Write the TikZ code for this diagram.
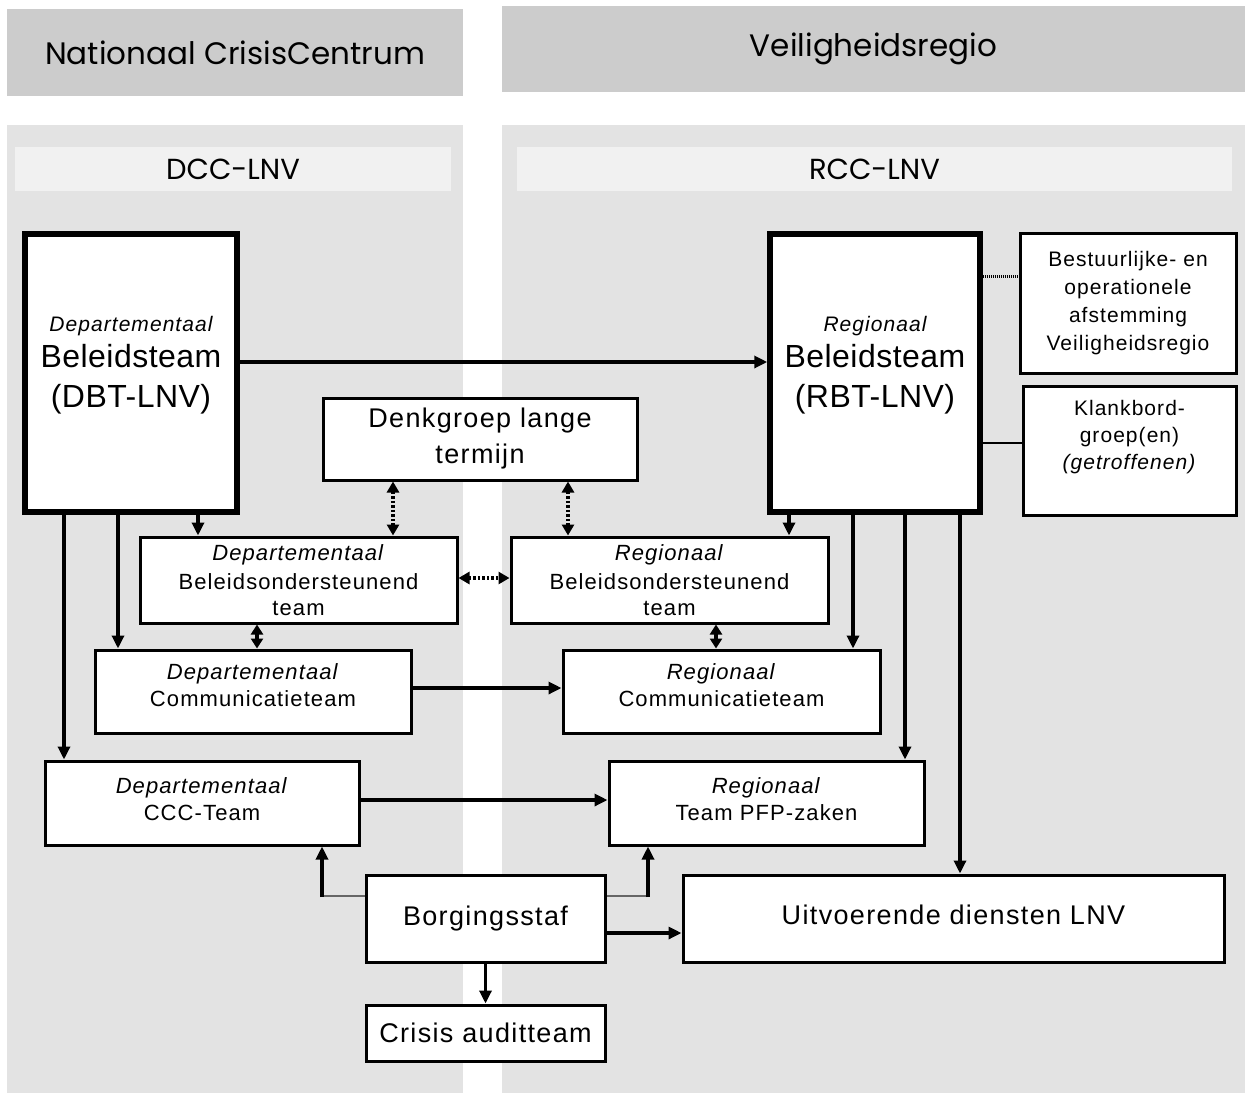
\documentclass[tikz,border=0pt]{standalone}
\usepackage{fontspec}
\setmainfont{Liberation Sans}[LetterSpace=5]
\newfontfamily\hdrfont{Poppins}
\newfontfamily\bigfont{Liberation Sans}[LetterSpace=1.5]
\usetikzlibrary{arrows.meta}
\definecolor{hdrgray}{HTML}{CCCCCC}
\definecolor{panelgray}{HTML}{E3E3E3}
\definecolor{subgray}{HTML}{F1F1F1}
\begin{document}
\begin{tikzpicture}[x=1pt,y=-1pt,
  box/.style={draw, line width=3pt, fill=white, inner sep=0pt, align=center,
    font=\fontsize{22}{27}\selectfont},
  bigbox/.style={box, line width=5.5pt},
  txt/.style={inner sep=0pt, align=center, font=\fontsize{22}{27}\selectfont},
  hdr/.style={fill=hdrgray, inner sep=0pt, font=\hdrfont\fontsize{31}{36}\selectfont},
  panel/.style={fill=panelgray, inner sep=0pt},
  sub/.style={fill=subgray, inner sep=0pt, font=\hdrfont\fontsize{29}{34}\selectfont},
  arr/.style={line width=3.2pt, -{Triangle[length=13pt,width=12pt]}},
  darr/.style={line width=3.2pt, dash pattern=on 2.5pt off 2pt,
    {Triangle[length=11pt,width=12pt]}-{Triangle[length=11pt,width=12pt]}},
  sarr/.style={line width=3.2pt,
    {Triangle[length=10pt,width=12pt]}-{Triangle[length=10pt,width=12pt]}},
  dotline/.style={line width=3pt, dash pattern=on 1pt off 1pt},
  thinline/.style={line width=1.3pt},
  grayline/.style={line width=1.6pt, draw=black!60}
]
\useasboundingbox (0,0) rectangle (1245,1093);
% background panels
\node[hdr, minimum width=456, minimum height=87] (hl) at (235,52.5) {Nationaal CrisisCentrum};
\node[hdr, minimum width=743, minimum height=86] (hr) at (873.5,49) {Veiligheidsregio};
\node[panel, minimum width=456, minimum height=968, anchor=north west] (pl) at (7,125) {};
\node[panel, minimum width=743, minimum height=968, anchor=north west] (pr) at (502,125) {};
\node[sub, minimum width=436, minimum height=44] (dcc) at (233,169) {DCC-LNV};
\node[sub, minimum width=715, minimum height=44] (rcc) at (874.5,169) {RCC-LNV};

% boxes
\node[bigbox, minimum width=212, minimum height=278] (dbt) at (131,373) {};
\node[txt, font=\bigfont\fontsize{32}{40}\selectfont] (dbtt) at (131,365)
  {{\normalfont\fontsize{21}{25}\selectfont\itshape Departementaal}\\[-4pt] Beleidsteam\\ (DBT-LNV)};
\node[bigbox, minimum width=210, minimum height=278] (rbt) at (875,373) {};
\node[txt, font=\bigfont\fontsize{32}{40}\selectfont] (rbtt) at (875,365)
  {{\normalfont\fontsize{21}{25}\selectfont\itshape Regionaal}\\[-4pt] Beleidsteam\\ (RBT-LNV)};

\node[box, minimum width=216, minimum height=140, font=\fontsize{21}{28}\selectfont] (best) at (1128,303)
  {Bestuurlijke- en\\ operationele\\ afstemming\\ Veiligheidsregio};
\node[box, minimum width=213, minimum height=129] (klank) at (1129.5,450.5) {};
\node[txt, font=\fontsize{21}{27}\selectfont] (klankt) at (1129.5,437)
  {Klankbord-\\ groep(en)\\ \textit{(getroffenen)}};

\node[box, minimum width=314, minimum height=82, font=\fontsize{27}{36}\selectfont] (denk) at (480,439)
  {Denkgroep lange\\ termijn};

\node[box, minimum width=317, minimum height=86, font=\fontsize{22}{29}\selectfont] (depbel) at (298.5,580)
  {\textit{Departementaal}\\ Beleidsondersteunend\\[-3pt] team};
\node[box, minimum width=317, minimum height=86, font=\fontsize{22}{29}\selectfont] (regbel) at (669.5,580)
  {\textit{Regionaal}\\ Beleidsondersteunend\\[-3pt] team};

\node[box, minimum width=316, minimum height=83] (depcomm) at (253,691.5) {};
\node[txt] (depcommt) at (253,685) {\textit{Departementaal}\\ Communicatieteam};
\node[box, minimum width=317, minimum height=83] (regcomm) at (721.5,691.5) {};
\node[txt] (regcommt) at (721.5,685) {\textit{Regionaal}\\ Communicatieteam};

\node[box, minimum width=314, minimum height=84] (depccc) at (202,803) {};
\node[txt] (depccct) at (202,799) {\textit{Departementaal}\\ CCC-Team};
\node[box, minimum width=315, minimum height=84] (regpfp) at (766.5,803) {};
\node[txt] (regpfpt) at (766.5,799) {\textit{Regionaal}\\ Team PFP-zaken};

\node[box, minimum width=239, minimum height=87, font=\fontsize{27}{32}\selectfont] (borg) at (485.5,918.5) {Borgingsstaf};
\node[box, minimum width=541, minimum height=87] (uitv) at (953.5,918.5) {};
\node[txt, font=\fontsize{27}{32}\selectfont] (uitvt) at (953.5,915) {Uitvoerende diensten LNV};
\node[box, minimum width=239, minimum height=56, font=\fontsize{27}{32}\selectfont] (audit) at (485.5,1033) {Crisis auditteam};

% connectors
\draw[arr] ([yshift=11pt]dbt.east) coordinate (c1) -- (c1 -| rbt.west);
\draw[dotline] ([yshift=97pt]rbt.east) coordinate (c2) -- (c2 -| best.west);
\draw[thinline] ([yshift=-70pt]rbt.east) coordinate (c3) -- (c3 -| klank.west);

\draw[darr] ([xshift=-87pt]denk.south) coordinate (c4) -- (c4 |- depbel.north);
\draw[darr] ([xshift=88pt]denk.south) coordinate (c5) -- (c5 |- regbel.north);
\draw[darr] ([yshift=2pt]depbel.east) coordinate (c6) -- (c6 -| regbel.west);
\draw[sarr] ([xshift=-41.5pt]depbel.south) coordinate (c7) -- (c7 |- depcomm.north);
\draw[sarr] ([xshift=46.5pt]regbel.south) coordinate (c8) -- (c8 |- regcomm.north);

\draw[arr] ([xshift=67pt]dbt.south) coordinate (d1) -- (d1 |- depbel.north);
\draw[arr] ([xshift=-13pt]dbt.south) coordinate (d2) -- (d2 |- depcomm.north);
\draw[arr] ([xshift=-67pt]dbt.south) coordinate (d3) -- (d3 |- depccc.north);

\draw[arr] ([xshift=-86pt]rbt.south) coordinate (r1) -- (r1 |- regbel.north);
\draw[arr] ([xshift=-22pt]rbt.south) coordinate (r2) -- (r2 |- regcomm.north);
\draw[arr] ([xshift=30pt]rbt.south) coordinate (r3) -- (r3 |- regpfp.north);
\draw[arr] ([xshift=85pt]rbt.south) coordinate (r4) -- (r4 |- uitv.north);

\draw[arr] ([yshift=3.5pt]depcomm.east) coordinate (h1) -- (h1 -| regcomm.west);
\draw[arr] ([yshift=3pt]depccc.east) coordinate (h2) -- (h2 -| regpfp.west);

\coordinate (bl) at (322,896);
\coordinate (br) at (648,896);
\draw[grayline] (bl) -- (bl -| borg.west);
\draw[grayline] (br) -- (br -| borg.east);
\draw[arr] ([yshift=-1pt]bl) -- (bl |- depccc.south);
\draw[arr] ([yshift=-1pt]br) -- (br |- regpfp.south);
\draw[arr] ([yshift=-14.5pt]borg.east) coordinate (h3) -- (h3 -| uitv.west);
\draw[arr] (borg.south) -- (audit.north);
\end{tikzpicture}
\end{document}
